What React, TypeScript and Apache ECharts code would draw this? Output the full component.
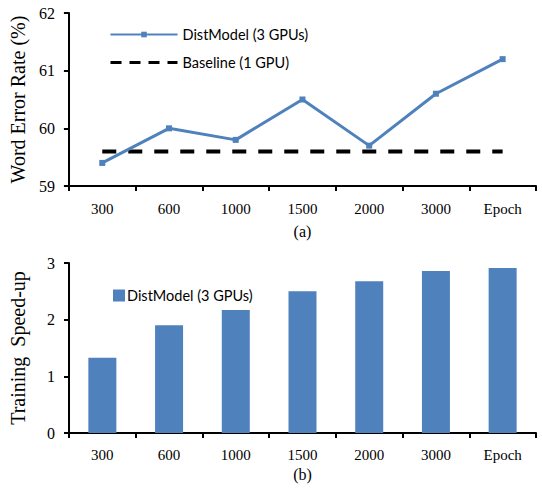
import React, { useEffect, useRef } from "react";
import * as echarts from "echarts";

const categories = ["300", "600", "1000", "1500", "2000", "3000", "Epoch"];
const werDistModel = [59.4, 60.0, 59.8, 60.5, 59.7, 60.6, 61.2];
const werBaseline = [59.6, 59.6, 59.6, 59.6, 59.6, 59.6, 59.6];
const speedup = [1.33, 1.9, 2.17, 2.5, 2.68, 2.86, 2.91];

const BLUE = "#4F81BD";
const SERIF = "'Liberation Serif', 'Times New Roman', serif";
const SANS = "Lato, 'Open Sans', sans-serif";

export default function App() {
  const ref = useRef<HTMLDivElement>(null);

  useEffect(() => {
    if (!ref.current) return;
    const chart = echarts.init(ref.current, undefined, { renderer: "svg" });
    const axisLine = { show: true, lineStyle: { color: "#000", width: 2 } };
    const axisTick = { show: true, length: 5, lineStyle: { color: "#000", width: 2 } };
    const xLabel = { color: "#000", fontFamily: SERIF, fontSize: 15 };
    const yLabel = { color: "#000", fontFamily: SERIF, fontSize: 16, margin: 14 };
    chart.setOption({
      animation: false,
      backgroundColor: "#fff",
      grid: [
        { left: 67, right: 6, top: 13, height: 173, containLabel: false },
        { left: 67, right: 6, top: 263, height: 170, containLabel: false },
      ],
      legend: [
        {
          orient: "vertical",
          left: 104,
          top: 22,
          itemWidth: 67,
          itemHeight: 7,
          itemGap: 13,
          data: [
            { name: "DistModel (3 GPUs)" },
            {
              name: "Baseline (1 GPU)",
              itemStyle: { color: "transparent", borderWidth: 0 },
              lineStyle: { type: [11, 8], width: 3 },
            },
          ],
          textStyle: { color: "#000", fontFamily: SANS, fontSize: 14.5, padding: [0, 0, 0, 0] },
        },
        {
          left: 108,
          top: 283,
          itemWidth: 12,
          itemHeight: 12,
          itemGap: 4,
          icon: "rect",
          data: ["speedup"],
          formatter: () => "DistModel (3 GPUs)",
          textStyle: { color: "#000", fontFamily: SANS, fontSize: 14.5, padding: [0, 0, 0, -3] },
        },
      ],
      xAxis: [
        {
          type: "category",
          gridIndex: 0,
          data: categories,
          boundaryGap: true,
          axisLine,
          axisTick,
          axisLabel: { ...xLabel, margin: 15 },
          name: "(a)",
          nameLocation: "middle",
          nameGap: 37,
          nameTextStyle: { color: "#000", fontFamily: SERIF, fontSize: 16 },
        },
        {
          type: "category",
          gridIndex: 1,
          data: categories,
          boundaryGap: true,
          axisLine,
          axisTick,
          axisLabel: { ...xLabel, margin: 14 },
          name: "(b)",
          nameLocation: "middle",
          nameGap: 33,
          nameTextStyle: { color: "#000", fontFamily: SERIF, fontSize: 16 },
        },
      ],
      yAxis: [
        {
          type: "value",
          gridIndex: 0,
          min: 59,
          max: 62,
          interval: 1,
          axisLine,
          axisTick,
          splitLine: { show: false },
          axisLabel: yLabel,
          name: "Word Error Rate (%)",
          nameLocation: "middle",
          nameRotate: 90,
          nameGap: 38,
          nameTextStyle: { color: "#000", fontFamily: SERIF, fontSize: 20 },
        },
        {
          type: "value",
          gridIndex: 1,
          min: 0,
          max: 3,
          interval: 1,
          axisLine,
          axisTick,
          splitLine: { show: false },
          axisLabel: yLabel,
          name: "Training  Speed-up",
          nameLocation: "middle",
          nameRotate: 90,
          nameGap: 41,
          nameTextStyle: { color: "#000", fontFamily: SERIF, fontSize: 20 },
        },
      ],
      series: [
        {
          name: "DistModel (3 GPUs)",
          type: "line",
          xAxisIndex: 0,
          yAxisIndex: 0,
          data: werDistModel,
          symbol: "rect",
          symbolSize: 6,
          itemStyle: { color: BLUE },
          lineStyle: { color: BLUE, width: 3 },
          z: 3,
        },
        {
          name: "Baseline (1 GPU)",
          type: "line",
          xAxisIndex: 0,
          yAxisIndex: 0,
          data: werBaseline,
          symbol: "none",
          itemStyle: { color: "#000" },
          lineStyle: { color: "#000", width: 4, type: [14, 12] },
          z: 2,
        },
        {
          name: "speedup",
          type: "bar",
          xAxisIndex: 1,
          yAxisIndex: 1,
          data: speedup,
          barWidth: 28,
          itemStyle: { color: BLUE },
        },
      ],
    });
    return () => chart.dispose();
  }, []);

  return (
    <div
      ref={ref}
      style={{ position: "fixed", left: 0, top: 0, width: 542, height: 488, background: "#fff" }}
    />
  );
}
